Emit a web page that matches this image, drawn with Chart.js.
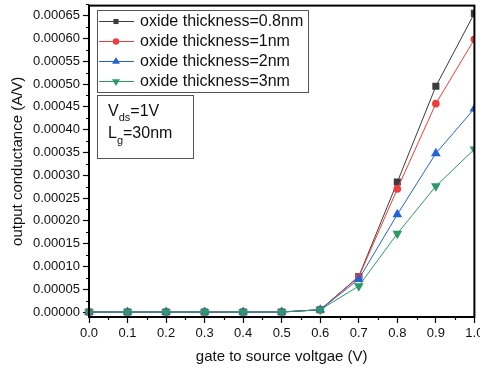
<!DOCTYPE html>
<html>
<head>
<meta charset="utf-8">
<script src="https://cdn.jsdelivr.net/npm/chart.js@4/dist/chart.umd.min.js"></script>
<style>
  html, body { margin: 0; padding: 0; background: #fff; }
  #wrap { width: 480px; height: 372px; position: relative; }
</style>
</head>
<body>
<div id="wrap"><canvas id="chart"></canvas></div>
<script>
// Data
const gateVoltage = [0.0, 0.1, 0.2, 0.3, 0.4, 0.5, 0.6, 0.7, 0.8, 0.9, 1.0];
const tox08 = [0, 0, 0, 0, 0, 0, 0.000005, 0.000078, 0.000285, 0.000495, 0.000655];
const tox1  = [0, 0, 0, 0, 0, 0, 0.000005, 0.000077, 0.000270, 0.000457, 0.000598];
const tox2  = [0, 0, 0, 0, 0, 0, 0.000005, 0.000072, 0.000214, 0.000348, 0.000446];
const tox3  = [0, 0, 0, 0, 0, 0, 0.000005, 0.000057, 0.000172, 0.000276, 0.000357];
const seriesLabels = ['oxide thickness=0.8nm', 'oxide thickness=1nm', 'oxide thickness=2nm', 'oxide thickness=3nm'];
const yTicks = [0, 0.00005, 0.0001, 0.00015, 0.0002, 0.00025, 0.0003, 0.00035, 0.0004, 0.00045, 0.0005, 0.00055, 0.0006, 0.00065];
const xTicks = [0.0, 0.1, 0.2, 0.3, 0.4, 0.5, 0.6, 0.7, 0.8, 0.9, 1.0];

const FONT = "'Liberation Sans', Arial, sans-serif";
const colors = ['#3c3c3c', '#f03c3c', '#2363d8', '#2a9a66'];
const styles = ['rect', 'circle', 'triangle', 'triangle'];
const rotations = [0, 0, 0, 180];
const markerSize = [5, 3.8, 5.6, 5.6];
const legendMarkerSize = [3.6, 3.2, 4.6, 4.6];

function toPoints(ys) {
    return gateVoltage.map((x, i) => ({ x: x, y: ys[i] }));
}

const allSeries = [tox08, tox1, tox2, tox3];
const datasets = allSeries.map((ys, i) => ({
    label: seriesLabels[i],
    data: toPoints(ys),
    borderColor: colors[i],
    backgroundColor: colors[i],
    borderWidth: 1,
    pointStyle: styles[i],
    pointRotation: rotations[i],
    pointRadius: markerSize[i],
    pointBorderWidth: 0,
    tension: 0,
    order: 3 - i,
    clip: { left: 6, top: 0, right: 0, bottom: 6 }
}));

// Frame, minor ticks, legend box and annotation box
const decorations = {
    id: 'decorations',
    afterDatasetsDraw(chart) {
        const ctx = chart.ctx;
        const area = chart.chartArea;
        const xs = chart.scales.x;
        const ys = chart.scales.y;
        ctx.save();

        // frame
        ctx.strokeStyle = '#000';
        ctx.lineWidth = 2;
        ctx.strokeRect(area.left, area.top, area.right - area.left, area.bottom - area.top);

        // minor ticks
        ctx.lineWidth = 1.2;
        ctx.beginPath();
        for (let i = 0; i < yTicks.length; i++) {
            const v = yTicks[i] + 0.000025;
            const py = Math.round(ys.getPixelForValue(v)) + 0.5;
            ctx.moveTo(area.left - 3, py);
            ctx.lineTo(area.left, py);
        }
        for (let i = 0; i < xTicks.length - 1; i++) {
            const v = xTicks[i] + 0.05;
            const px = Math.round(xs.getPixelForValue(v)) + 0.5;
            ctx.moveTo(px, area.bottom);
            ctx.lineTo(px, area.bottom + 3);
        }
        ctx.stroke();

        // legend box
        ctx.lineWidth = 1;
        ctx.strokeStyle = '#555';
        ctx.fillStyle = '#fff';
        ctx.fillRect(97.5, 10.5, 211, 82);
        ctx.strokeRect(97.5, 10.5, 211, 82);
        ctx.font = '16px ' + FONT;
        ctx.textBaseline = 'middle';
        ctx.textAlign = 'left';
        const rowY = [21, 41, 61, 81];
        for (let i = 0; i < seriesLabels.length; i++) {
            const y = rowY[i];
            ctx.strokeStyle = colors[i];
            ctx.lineWidth = 1;
            ctx.beginPath();
            ctx.moveTo(99, y + 0.5);
            ctx.lineTo(134, y + 0.5);
            ctx.stroke();
            ctx.fillStyle = colors[i];
            Chart.helpers.drawPoint(ctx, {
                pointStyle: styles[i],
                rotation: rotations[i],
                radius: legendMarkerSize[i],
                borderWidth: 0
            }, 116, y + 0.5);
            ctx.fillStyle = '#111';
            ctx.fillText(seriesLabels[i], 140, y + 1);
        }

        // annotation box
        ctx.strokeStyle = '#555';
        ctx.lineWidth = 1;
        ctx.fillStyle = '#fff';
        ctx.fillRect(97.5, 95.5, 96, 63);
        ctx.strokeRect(97.5, 95.5, 96, 63);
        ctx.fillStyle = '#111';
        let x = 108;
        ctx.font = '16px ' + FONT;
        ctx.fillText('V', x, 112);
        x += ctx.measureText('V').width;
        ctx.font = '11px ' + FONT;
        ctx.fillText('ds', x, 118);
        x += ctx.measureText('ds').width;
        ctx.font = '16px ' + FONT;
        ctx.fillText('=1V', x, 112);

        x = 108;
        ctx.fillText('L', x, 134);
        x += ctx.measureText('L').width;
        ctx.font = '11px ' + FONT;
        ctx.fillText('g', x, 141);
        x += ctx.measureText('g').width;
        ctx.font = '16px ' + FONT;
        ctx.fillText('=30nm', x, 134);

        ctx.restore();
    }
};

new Chart(document.getElementById('chart'), {
    type: 'line',
    data: { datasets: datasets },
    options: {
        responsive: true,
        maintainAspectRatio: false,
        animation: false,
        devicePixelRatio: 1,
        layout: { padding: { top: 3, right: 3, left: 0, bottom: 0 } },
        plugins: {
            legend: { display: false },
            tooltip: { enabled: false }
        },
        scales: {
            x: {
                type: 'linear',
                min: 0,
                max: 1.0,
                afterBuildTicks: scale => { scale.ticks = xTicks.map(v => ({ value: v })); },
                afterFit: scale => { scale.height = 55; scale.paddingLeft = 0; scale.paddingRight = 0; },
                ticks: {
                    color: '#111',
                    font: { family: FONT, size: 13 },
                    padding: 3,
                    maxRotation: 0,
                    callback: v => v.toFixed(1)
                },
                grid: { drawOnChartArea: false, tickLength: 6, tickColor: '#000', tickWidth: 1.2 },
                border: { display: true, color: '#000', width: 2 },
                title: {
                    display: true,
                    text: 'gate to source voltgae (V)',
                    color: '#111',
                    font: { family: FONT, size: 15 },
                    padding: { top: 0, bottom: 6 }
                }
            },
            y: {
                type: 'linear',
                min: -0.0000109,
                max: 0.000672,
                afterBuildTicks: scale => { scale.ticks = yTicks.map(v => ({ value: v })); },
                afterFit: scale => { scale.width = 89; scale.paddingTop = 0; scale.paddingBottom = 0; },
                ticks: {
                    color: '#111',
                    font: { family: FONT, size: 13 },
                    padding: 3,
                    callback: v => v.toFixed(5)
                },
                grid: { drawOnChartArea: false, tickLength: 6, tickColor: '#000', tickWidth: 1.2 },
                border: { display: true, color: '#000', width: 2 },
                title: {
                    display: true,
                    text: 'output conductance (A/V)',
                    color: '#111',
                    font: { family: FONT, size: 15 },
                    padding: { top: 9, bottom: 0 }
                }
            }
        }
    },
    plugins: [decorations]
});
</script>
</body>
</html>
